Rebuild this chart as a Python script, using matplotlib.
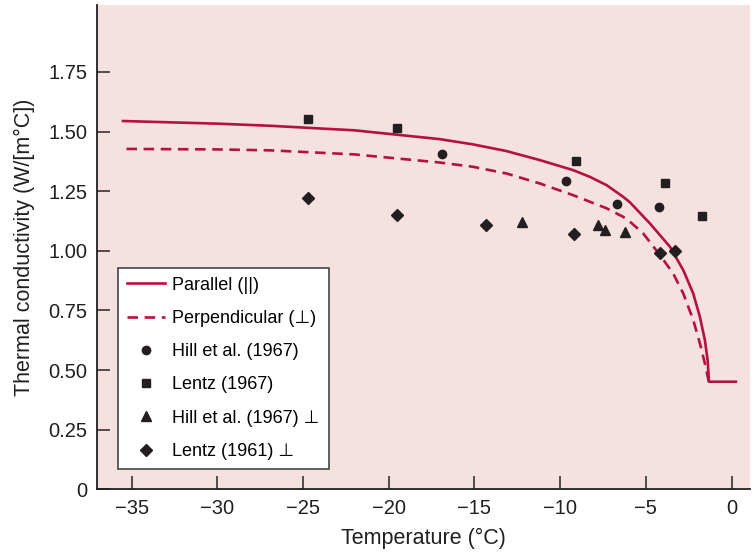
import matplotlib
matplotlib.use("Agg")
import matplotlib.pyplot as plt

plt.rcParams['font.family'] = ['Liberation Sans', 'DejaVu Sans']

# curves (temperature in C, conductivity in W/[m C])
par_t = [-35.5, -30.0, -26.9, -22.0, -17.02, -15.08, -13.13, -11.18, -9.24, -8.27, -7.29, -6.32,
         -5.93, -4.77, -3.60, -2.82, -2.24, -1.85, -1.56, -1.40, -1.32, 0.25]
par_k = [1.544, 1.533, 1.524, 1.505, 1.468, 1.446, 1.418, 1.380, 1.338, 1.310, 1.275, 1.226,
         1.203, 1.115, 1.017, 0.919, 0.821, 0.723, 0.626, 0.542, 0.451, 0.451]

perp_t = [-35.3, -30.0, -26.9, -22.0, -17.02, -15.08, -13.13, -11.18, -9.24, -7.29, -6.32,
          -5.93, -5.16, -4.18, -3.41, -2.82, -2.24, -1.85, -1.56, -1.43, -1.33]
perp_k = [1.427, 1.425, 1.421, 1.404, 1.370, 1.352, 1.324, 1.282, 1.233, 1.178, 1.142,
          1.122, 1.073, 0.982, 0.905, 0.821, 0.710, 0.612, 0.528, 0.485, 0.451]

hill_t = [-16.9, -9.65, -6.7, -4.26]
hill_k = [1.405, 1.291, 1.194, 1.183]

lentz67_t = [-24.7, -19.5, -9.1, -3.9, -1.7]
lentz67_k = [1.551, 1.515, 1.376, 1.284, 1.146]

hillp_t = [-12.2, -7.8, -7.4, -6.2]
hillp_k = [1.120, 1.109, 1.085, 1.080]

lentz61_t = [-24.7, -19.5, -14.35, -9.2, -4.2, -3.3]
lentz61_k = [1.220, 1.150, 1.109, 1.069, 0.992, 1.000]

xticks = [-35, -30, -25, -20, -15, -10, -5, 0]
yticks = [0, 0.25, 0.5, 0.75, 1.0, 1.25, 1.5, 1.75]
ylabels = ["0", "0.25", "0.50", "0.75", "1.00", "1.25", "1.50", "1.75"]

red = "#b5113f"
dark = "#231f20"

fig = plt.figure(figsize=(7.56, 5.54), dpi=100)
ax = fig.add_axes([0.1287, 0.1168, 0.8633, 0.874])
ax.set_facecolor("#f5e1e0")

ax.plot(par_t, par_k, color=red, lw=1.9, label="Parallel (||)")
ax.plot(perp_t, perp_k, color=red, lw=1.9, ls=(0, (4, 2.5)), label="Perpendicular (\u22a5)")
ax.plot(hill_t, hill_k, "o", color=dark, ms=6, label="Hill et al. (1967)")
ax.plot(lentz67_t, lentz67_k, "s", color=dark, ms=6, label="Lentz (1967)")
ax.plot(hillp_t, hillp_k, "^", color=dark, ms=6.5, label="Hill et al. (1967) \u22a5")
ax.plot(lentz61_t, lentz61_k, "D", color=dark, ms=6.5, label="Lentz (1961) \u22a5")

ax.set_xlim(-37, 1.07)
ax.set_ylim(0, 2.03)
ax.set_xticks(xticks)
ax.set_yticks(yticks)
ax.set_yticklabels(ylabels)
ax.tick_params(direction="in", length=9.5, width=1.2, color="#333333",
               labelsize=14.5, labelcolor="#231f20", pad=7)

for s in ["top", "right"]:
    ax.spines[s].set_visible(False)
for s in ["left", "bottom"]:
    ax.spines[s].set_color("#231f20")
    ax.spines[s].set_linewidth(1.3)

ax.set_xlabel("Temperature (\u00b0C)", fontsize=15.5, color="#231f20", labelpad=7)
ax.set_ylabel("Thermal conductivity (W/[m\u00b0C])", fontsize=15.5, color="#231f20", labelpad=10)

leg = ax.legend(loc="lower left", bbox_to_anchor=(0.032, 0.042), borderaxespad=0,
                fontsize=13, frameon=True, fancybox=False, framealpha=1, edgecolor="#444444",
                handlelength=2.1, labelspacing=0.9, borderpad=0.5, handletextpad=0.4)
leg.get_frame().set_linewidth(1.2)

fig.savefig("out.png", dpi=100)
